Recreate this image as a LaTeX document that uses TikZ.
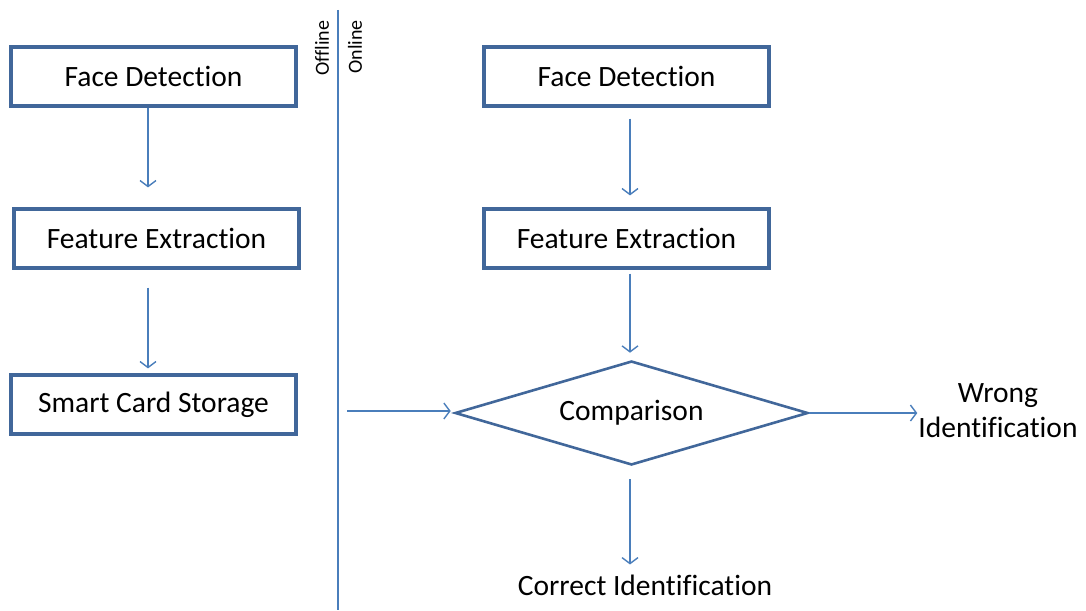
\documentclass[tikz,border=0pt]{standalone}
\usepackage{fontspec}
\setmainfont{Carlito}[Ligatures=NoCommon]
\usetikzlibrary{shapes.geometric,arrows.meta}
\definecolor{boxblue}{HTML}{41679A}
\definecolor{linkblue}{HTML}{4A7EBB}
\tikzset{
  stepbox/.style={draw=boxblue, line width=3.2pt, fill=white, minimum width=285pt,
    minimum height=59pt, inner sep=0pt, font=\fontsize{29.5}{35}\selectfont},
  decision/.style={diamond, draw=boxblue, line width=2.6pt, minimum width=353pt,
    minimum height=104pt, aspect=3.4, inner sep=0pt, font=\fontsize{29.5}{35}\selectfont},
  label/.style={inner sep=0pt, align=center, font=\fontsize{29.5}{35}\selectfont},
  phase/.style={rotate=90, inner sep=0pt, font=\fontsize{20}{24}\selectfont},
  link/.style={draw=linkblue, line width=1.4pt, -{Straight Barb[length=6pt,width=16pt,line width=1.4pt]}}
}
\begin{document}
\begin{tikzpicture}[x=1pt,y=-1pt]
\useasboundingbox (0,0) rectangle (1086,610);

% separator between the two phases
\coordinate (septop) at (338,10);
\coordinate (sepbot) at (338,610);
\draw[linkblue, line width=1.6pt] (septop) -- (sepbot);
\node[phase] (offline) at (322,48) {Offline};
\node[phase] (online) at (355,47) {Online};

% enrolment (offline)
\node[stepbox] (lfd) at (153.5,76.5) {Face Detection};
\node[stepbox] (lfe) at (156.5,238.5) {Feature Extraction};
\node[stepbox] (lsc) at (153.5,404.5) {Smart Card Storage};

% verification (online)
\node[stepbox] (rfd) at (626.5,76.5) {Face Detection};
\node[stepbox] (rfe) at (626.5,238.5) {Feature Extraction};
\node[decision] (cmp) at (631.5,413) {Comparison};
\node[label] (wrong) at (998,411) {Wrong\\Identification};
\node[label] (correct) at (645,585) {Correct Identification};

% connectors
\draw[link, shorten >=20pt] ([xshift=-5.5pt]lfd.south) -- ([xshift=-5.5pt]lfd.south |- lfe.north);
\draw[link, shorten <=18pt, shorten >=5pt] ([xshift=-8.5pt]lfe.south) -- ([xshift=-8.5pt]lfe.south |- lsc.north);
\draw[link, shorten <=11pt, shorten >=12pt] ([xshift=3.5pt]rfd.south) -- ([xshift=3.5pt]rfd.south |- rfe.north);
\draw[link, shorten <=4pt, shorten >=7pt] ([xshift=3.5pt]rfe.south) -- ([xshift=3.5pt]rfe.south |- cmp.north);
\coordinate (feed) at (347,411);
\draw[link, shorten >=3pt] (feed) -- (feed -| cmp.west);
\draw[link] (cmp.east) -- ([xshift=108pt]cmp.east);
\draw[link, shorten <=13pt, shorten >=10pt] ([xshift=-1.5pt]cmp.south) -- ([xshift=-1.5pt]cmp.south |- correct.north);
\end{tikzpicture}
\end{document}
